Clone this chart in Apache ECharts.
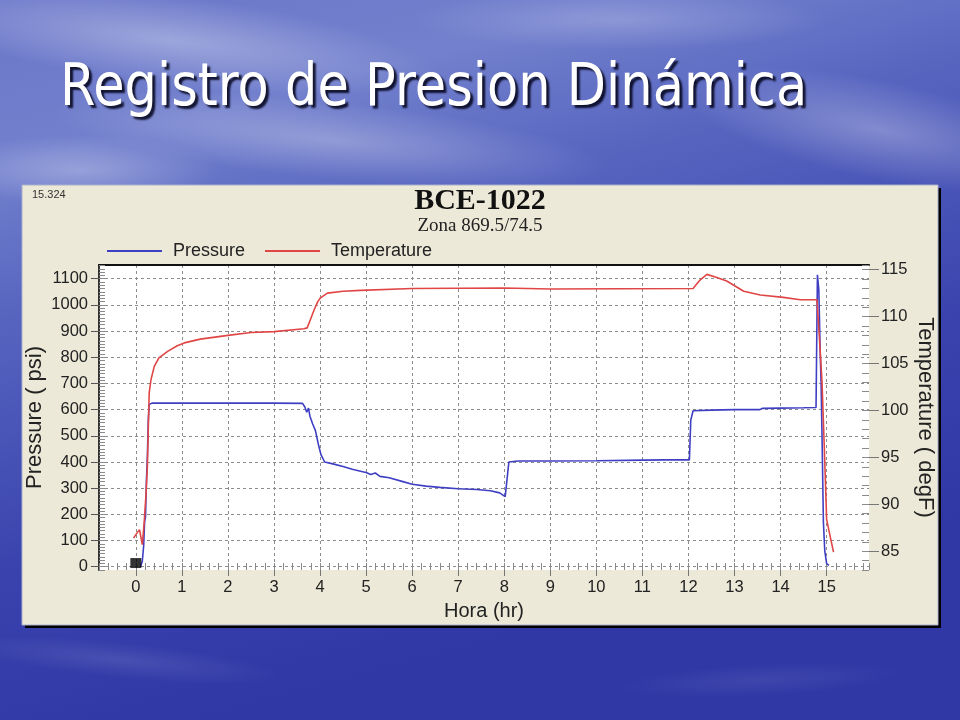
<!DOCTYPE html>
<html><head><meta charset="utf-8">
<script src="https://cdn.jsdelivr.net/npm/echarts@6/dist/echarts.min.js"></script>
<style>html,body{margin:0;padding:0;background:#3a47b0;}#c{width:960px;height:720px;}</style>
</head><body><div id="c"></div>
<script>
const slideTitle = 'Registro de Presion Dinámica';
const chartTitle = 'BCE-1022';
const chartSubtitle = 'Zona 869.5/74.5';
const cornerNote = '15.324';
const seriesNames = ['Pressure', 'Temperature'];
const xAxisName = 'Hora (hr)';
const pressureAxisName = 'Pressure ( psi)';
const temperatureAxisName = 'Temperature ( degF)';
const hourTicks = [0,1,2,3,4,5,6,7,8,9,10,11,12,13,14,15];
const pressureTicks = [0,100,200,300,400,500,600,700,800,900,1000,1100];
const temperatureTicks = [85,90,95,100,105,110,115];

const pressureData = [
  [0.10,0],[0.14,20],[0.17,80],[0.19,170],[0.21,190],[0.23,330],[0.25,420],[0.27,560],[0.29,620],[0.35,625],
  [1.0,625],[2.0,625],[3.0,625],[3.62,624],[3.67,610],[3.71,590],[3.75,606],[3.78,575],[3.84,545],[3.9,520],
  [3.96,470],[4.02,428],[4.1,400],[4.3,392],[4.5,383],[4.7,372],[4.9,364],[5.0,360],[5.1,352],[5.2,358],
  [5.3,345],[5.5,340],[5.8,325],[6.0,315],[6.3,308],[6.6,303],[7.0,298],[7.4,295],[7.7,290],[7.9,282],
  [8.02,268],[8.06,272],[8.1,400],[8.3,404],[9.0,404],[10.0,405],[11.0,407],[11.5,408],[12.02,408],[12.05,560],
  [12.1,596],[12.5,598],[13.0,600],[13.55,600],[13.6,605],[14.0,606],[14.5,607],[14.77,608],[14.8,1115],[14.83,1060],
  [14.85,900],[14.86,820],[14.88,700],[14.9,500],[14.93,170],[14.96,60],[15.0,12],[15.05,5]
];
const temperatureData = [
  [-0.05,86.4],[0.02,86.9],[0.08,87.3],[0.11,86.5],[0.14,85.7],[0.18,88.0],[0.22,91.0],[0.25,94.0],[0.27,98.0],[0.29,101.9],
  [0.33,103.3],[0.4,104.7],[0.5,105.6],[0.69,106.3],[0.9,106.9],[1.05,107.2],[1.4,107.6],[2.0,108.0],[2.5,108.3],[3.0,108.4],
  [3.65,108.7],[3.72,108.8],[3.8,109.8],[3.87,110.7],[3.95,111.6],[4.01,112.0],[4.16,112.5],[4.5,112.7],[4.88,112.8],[6.0,113.0],
  [8.0,113.05],[9.0,112.95],[12.1,113.0],[12.25,113.9],[12.4,114.5],[12.6,114.2],[12.83,113.8],[13.2,112.7],[13.56,112.3],[14.06,112.05],
  [14.43,111.8],[14.79,111.8],[14.84,108.0],[14.9,103.0],[14.95,96.0],[15.0,88.4],[15.08,86.5],[15.15,84.9]
];
const markerData = [[0, 14]];

const sans = '"Liberation Sans", Arial, sans-serif';
const serif = '"Liberation Serif", "Times New Roman", serif';
const gridDash = {type:[3,3], color:'#8c8c8c', width:1};
const plain = function (v) { return String(v); };

function cloud(x, y, r, sx, rot, a) {
  return {type:'circle', x:x, y:y, scaleX:sx, rotation:rot, z:-9, silent:true,
    shape:{cx:0, cy:0, r:r},
    style:{fill:{type:'radial', x:0.5, y:0.5, r:0.5, colorStops:[
      {offset:0, color:'rgba(255,255,255,'+a+')'},{offset:1, color:'rgba(255,255,255,0)'}]}}};
}

const chart = echarts.init(document.getElementById('c'));
chart.setOption({
  animation:false,
  graphic:[
    {type:'rect', z:-10, silent:true, shape:{x:0,y:0,width:960,height:720},
     style:{fill:{type:'linear', x:0, y:0, x2:0.2, y2:1, colorStops:[
       {offset:0,color:'#6a77c9'},{offset:0.22,color:'#7280cd'},{offset:0.4,color:'#5866c0'},
       {offset:0.75,color:'#3942ad'},{offset:1,color:'#3038a6'}]}}},
    cloud(170, 40, 45, 6, -0.12, 0.32),
    cloud(330, 140, 40, 7, -0.1, 0.28),
    cloud(880, 130, 50, 4, -0.2, 0.28),
    cloud(620, 20, 30, 7, 0, 0.2),
    cloud(80, 170, 35, 4, 0, 0.28),
    cloud(120, 660, 18, 9, -0.1, 0.1),
    cloud(760, 680, 16, 9, 0.05, 0.07),
    {type:'rect', z:-8, silent:true, shape:{x:25,y:188,width:916,height:440}, style:{fill:'#000'}},
    {type:'rect', z:-7, silent:true, shape:{x:22,y:185,width:916,height:440}, style:{fill:'#ECE9D8', stroke:'#aab0cc', lineWidth:1}},
    {type:'text', z:10, x:60, y:90, scaleX:0.88, silent:true,
     style:{text:slideTitle, font:'58px "DejaVu Sans", Verdana, sans-serif', fill:'#ffffff',
       verticalAlign:'middle', align:'left',
       textShadowColor:'rgba(0,0,20,0.85)', textShadowBlur:2, textShadowOffsetX:3, textShadowOffsetY:3}}
  ],
  title:[
    {text:chartTitle, left:'center', top:186, padding:0, textStyle:{fontFamily:serif, fontWeight:'bold', fontSize:30, lineHeight:30, color:'#111'}},
    {text:chartSubtitle, left:'center', top:216, padding:0, textStyle:{fontFamily:serif, fontWeight:'normal', fontSize:19, lineHeight:20, color:'#222'}},
    {text:cornerNote, left:32, top:189, padding:0, textStyle:{fontFamily:sans, fontWeight:'normal', fontSize:11, lineHeight:11, color:'#333'}}
  ],
  legend:{
    data:seriesNames, left:102, top:237, icon:'rect', itemWidth:55, itemHeight:2, itemGap:20,
    textStyle:{fontFamily:sans, fontSize:18, color:'#222', padding:[0,0,0,6]}
  },
  grid:{left:99, top:265, width:770, height:305, show:true, backgroundColor:'#ffffff', borderWidth:0},
  xAxis:[
    {type:'value', min:-0.8, max:15.92, position:'bottom',
     axisLine:{show:false, onZero:false},
     axisTick:{show:true, customValues:hourTicks, length:6, lineStyle:{color:'#777'}},
     axisLabel:{customValues:hourTicks, formatter:plain, fontFamily:sans, fontSize:16.5, color:'#222', margin:9},
     splitLine:{show:true, lineStyle:gridDash},
     name:xAxisName, nameLocation:'middle', nameGap:31, nameMoveOverlap:false,
     nameTextStyle:{fontFamily:sans, fontSize:20, color:'#222'}},
    {type:'value', min:-0.8, max:15.92, interval:0.2, position:'bottom',
     axisLine:{show:false, onZero:false}, axisTick:{show:true, inside:true, length:7, lineStyle:{color:'#8a8a8a'}},
     axisLabel:{show:false}, splitLine:{show:false}},
    {type:'value', min:-0.8, max:15.92, position:'top',
     axisLine:{show:true, onZero:false, lineStyle:{color:'#111', width:2}}, axisTick:{show:false},
     axisLabel:{show:false}, splitLine:{show:false}}
  ],
  yAxis:[
    {type:'value', min:-12.5, max:1152.5, position:'left',
     axisLine:{show:true, onZero:false, lineStyle:{color:'#333', width:2}},
     axisTick:{show:true, customValues:pressureTicks, length:8, lineStyle:{color:'#555'}},
     axisLabel:{customValues:pressureTicks, formatter:plain, fontFamily:sans, fontSize:16.5, color:'#222', margin:11},
     splitLine:{show:true, lineStyle:gridDash},
     name:pressureAxisName, nameLocation:'middle', nameRotate:90, nameGap:53, nameMoveOverlap:false,
     nameTextStyle:{fontFamily:sans, fontSize:22, color:'#222'}},
    {type:'value', min:83, max:115.5, position:'right',
     axisLine:{show:false, onZero:false},
     axisTick:{show:true, customValues:temperatureTicks, length:10, lineStyle:{color:'#777'}},
     axisLabel:{customValues:temperatureTicks, formatter:plain, fontFamily:sans, fontSize:16.5, color:'#222', margin:12},
     splitLine:{show:false},
     name:temperatureAxisName, nameLocation:'middle', nameRotate:-90, nameGap:45, nameMoveOverlap:false,
     nameTextStyle:{fontFamily:sans, fontSize:22, color:'#222'}},
    {type:'value', min:-12.5, max:1152.5, interval:12.5, position:'left',
     axisLine:{show:false, onZero:false}, axisTick:{show:true, inside:true, length:6, lineStyle:{color:'#8a8a8a'}},
     axisLabel:{show:false}, splitLine:{show:false}},
    {type:'value', min:83, max:115.5, interval:1, position:'right',
     axisLine:{show:false, onZero:false}, axisTick:{show:true, inside:true, length:7, lineStyle:{color:'#8a8a8a'}},
     axisLabel:{show:false}, splitLine:{show:false}}
  ],
  series:[
    {name:seriesNames[0], type:'line', xAxisIndex:0, yAxisIndex:0, data:pressureData, symbol:'none',
     lineStyle:{color:'#3f3fc4', width:1.6}, itemStyle:{color:'#3f3fc4'}, z:3},
    {name:seriesNames[1], type:'line', xAxisIndex:0, yAxisIndex:1, data:temperatureData, symbol:'none',
     lineStyle:{color:'#e04646', width:1.6}, itemStyle:{color:'#e04646'}, z:4},
    {name:'marker', type:'scatter', xAxisIndex:0, yAxisIndex:0, data:markerData, symbol:'rect',
     symbolSize:[11,10], itemStyle:{color:'#000'}, silent:true, z:5}
  ]
});
</script></body></html>
